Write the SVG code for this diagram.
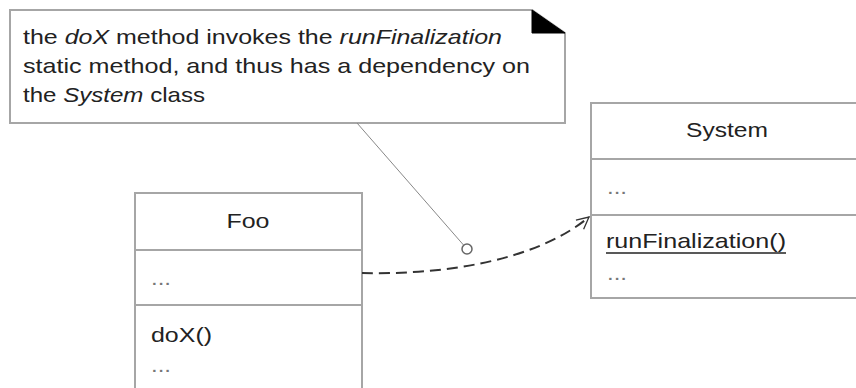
<svg xmlns="http://www.w3.org/2000/svg" width="856" height="388" viewBox="0 0 856 388">
<defs>
<style>
.box{fill:#fff;stroke:#a6a6a6;stroke-width:2}
.sep{stroke:#a6a6a6;stroke-width:2}
.t{font-family:"Liberation Sans",Arial,sans-serif;font-size:21px;fill:#222}
.dots{font-family:"Liberation Sans",Arial,sans-serif;font-size:21px;fill:#777}
.i{font-style:italic}
</style>
<marker id="open" markerWidth="20" markerHeight="20" refX="14" refY="7" orient="auto" markerUnits="userSpaceOnUse">
<path d="M2,1 L14,7 L2,13" fill="none" stroke="#333" stroke-width="1.3"/>
</marker>
</defs>
<rect width="856" height="388" fill="#fff"/>
<g id="note">
<path d="M10,10 L532,10 L565,33 L565,123 L10,123 Z" fill="#fff" stroke="#a6a6a6" stroke-width="2"/>
<path d="M532,10 L532,33 L565,33 Z" fill="#000" stroke="#000" stroke-width="1"/>
<text class="t" x="23" y="44" textLength="479" lengthAdjust="spacingAndGlyphs">the <tspan class="i">doX</tspan> method invokes the <tspan class="i">runFinalization</tspan></text>
<text class="t" x="23" y="73" textLength="507" lengthAdjust="spacingAndGlyphs">static method, and thus has a dependency on</text>
<text class="t" x="23" y="102" textLength="182" lengthAdjust="spacingAndGlyphs">the <tspan class="i">System</tspan> class</text>
</g>
<g id="foo">
<rect class="box" x="135" y="193" width="227" height="210"/>
<line class="sep" x1="135" y1="250" x2="362" y2="250"/>
<line class="sep" x1="135" y1="305" x2="362" y2="305"/>
<text class="t" x="248" y="228" text-anchor="middle" textLength="43" lengthAdjust="spacingAndGlyphs">Foo</text>
<text class="dots" x="151" y="285" textLength="20" lengthAdjust="spacingAndGlyphs">...</text>
<text class="t" x="151" y="342" textLength="61" lengthAdjust="spacingAndGlyphs">doX()</text>
<text class="dots" x="151" y="372" textLength="20" lengthAdjust="spacingAndGlyphs">...</text>
</g>
<g id="system">
<rect class="box" x="591" y="103" width="270" height="195"/>
<line class="sep" x1="591" y1="159" x2="861" y2="159"/>
<line class="sep" x1="591" y1="215" x2="861" y2="215"/>
<text class="t" x="727" y="137" text-anchor="middle" textLength="82" lengthAdjust="spacingAndGlyphs">System</text>
<text class="dots" x="607" y="194" textLength="20" lengthAdjust="spacingAndGlyphs">...</text>
<text class="t" x="606" y="248" textLength="180" lengthAdjust="spacingAndGlyphs">runFinalization()</text>
<line x1="606" y1="253" x2="786" y2="253" stroke="#222" stroke-width="1.5"/>
<text class="dots" x="607" y="280" textLength="20" lengthAdjust="spacingAndGlyphs">...</text>
</g>
<g id="connectors">
<path d="M362,273 C440,275 535,262 589,217" fill="none" stroke="#333" stroke-width="2" stroke-dasharray="11,6" marker-end="url(#open)"/>
<line x1="357" y1="123" x2="463.5" y2="245" stroke="#888" stroke-width="1"/>
<circle cx="467" cy="249" r="5" fill="#fff" stroke="#666" stroke-width="1.5"/>
</g>
</svg>
